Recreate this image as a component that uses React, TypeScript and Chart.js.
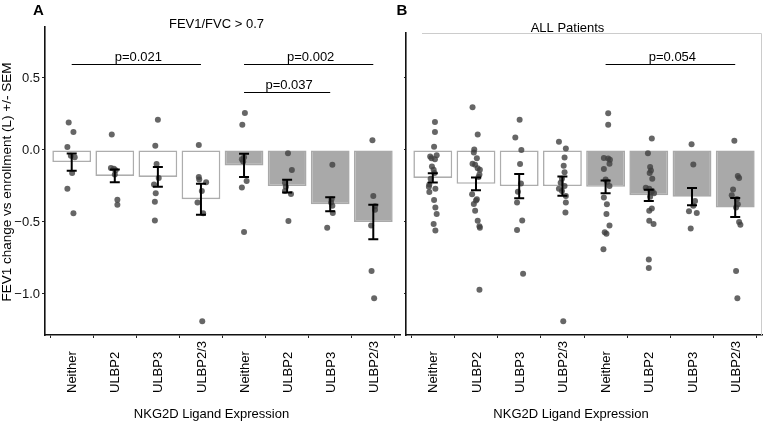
import React, { useEffect, useRef } from 'react';
import { Chart, registerables } from 'chart.js';

Chart.register(...registerables);

const FONT = '"Liberation Sans", Arial, Helvetica, sans-serif';

// ---------- data ----------
const categories = ['Neither', 'ULBP2', 'ULBP3', 'ULBP2/3', 'Neither', 'ULBP2', 'ULBP3', 'ULBP2/3'];
const yTickValues = [-1.0, -0.5, 0.0, 0.5];

// Panel A: FEV1/FVC > 0.7
const meansA = [-0.084, -0.18, -0.187, -0.342, -0.107, -0.251, -0.377, -0.5];
const semsA = [0.06, 0.045, 0.068, 0.108, 0.08, 0.044, 0.049, 0.12];
const pointsA = [
  [0.19, 0.125, 0.02, -0.04, -0.05, -0.16, -0.27, -0.44],
  [0.107, -0.125, -0.13, -0.14, -0.17, -0.345, -0.38],
  [0.21, 0.03, -0.098, -0.194, -0.24, -0.3, -0.36, -0.49],
  [0.035, -0.187, -0.205, -0.224, -0.285, -0.365, -0.44, -1.19],
  [0.256, 0.176, -0.05, -0.065, -0.08, -0.215, -0.26, -0.57],
  [-0.023, -0.139, -0.228, -0.256, -0.285, -0.306, -0.493],
  [-0.103, -0.342, -0.365, -0.388, -0.438, -0.54],
  [0.068, -0.32, -0.39, -0.415, -0.525, -0.84, -1.03],
];
const jitterA = [
  [-0.07, 0.04, -0.1, -0.02, 0.07, 0.01, -0.1, 0.04],
  [-0.07, -0.09, -0.02, 0.02, 0, 0.06, 0.06],
  [0, -0.06, -0.03, 0.02, -0.09, -0.05, -0.07, -0.07],
  [-0.05, -0.05, -0.04, 0.12, 0.02, -0.08, 0.05, 0.03],
  [0.02, -0.04, 0, -0.05, -0.02, 0.06, -0.05, 0],
  [0.02, 0.11, -0.05, -0.03, -0.05, 0.09, 0.03],
  [0.05, 0.03, 0.02, 0.05, 0.06, -0.07],
  [-0.02, 0, 0.04, 0.04, -0.05, -0.04, 0.02],
];
const sigA = [
  { from: 0, to: 3, y: 0.6, label: 'p=0.021' },
  { from: 4, to: 7, y: 0.6, label: 'p=0.002' },
  { from: 4, to: 6, y: 0.4, label: 'p=0.037' },
];

// Panel B: ALL Patients
const meansB = [-0.194, -0.235, -0.251, -0.251, -0.256, -0.315, -0.324, -0.4];
const semsB = [0.032, 0.044, 0.085, 0.066, 0.044, 0.039, 0.06, 0.066];
const pointsB = [
  [0.194, 0.125, 0.023, -0.037, -0.046, -0.057, -0.064, -0.114, -0.137, -0.16, -0.2, -0.24, -0.256, -0.27, -0.292, -0.347, -0.4, -0.445, -0.514, -0.56],
  [0.297, 0.107, 0.004, -0.018, -0.057, -0.096, -0.103, -0.126, -0.137, -0.171, -0.187, -0.308, -0.342, -0.35, -0.376, -0.422, -0.491, -0.53, -0.54, -0.97],
  [0.21, 0.087, 0.0, -0.098, -0.233, -0.29, -0.365, -0.49, -0.555, -0.86],
  [0.057, 0.011, -0.052, -0.11, -0.155, -0.2, -0.228, -0.25, -0.27, -0.285, -0.32, -0.365, -0.434, -1.19],
  [0.256, 0.176, -0.055, -0.06, -0.068, -0.096, -0.132, -0.205, -0.22, -0.251, -0.33, -0.377, -0.445, -0.525, -0.571, -0.582, -0.69],
  [0.08, -0.023, -0.119, -0.142, -0.16, -0.2, -0.262, -0.27, -0.285, -0.295, -0.3, -0.324, -0.406, -0.422, -0.491, -0.514, -0.76, -0.82],
  [0.039, -0.1, -0.354, -0.388, -0.425, -0.438, -0.545],
  [0.064, -0.18, -0.195, -0.274, -0.315, -0.34, -0.377, -0.4, -0.5, -0.52, -0.84, -1.03],
];
const jitterB = [
  [0.05, 0.05, 0.03, 0.09, -0.06, -0.03, 0.05, -0.02, 0.02, 0.04, -0.05, -0.08, -0.09, 0.06, -0.08, 0.03, 0.06, 0.09, 0.02, 0.06],
  [-0.08, 0.04, -0.04, -0.05, 0.02, -0.08, -0.02, 0.04, 0.09, 0.08, 0.06, -0.09, 0.02, 0, -0.05, -0.02, 0.04, 0.08, 0.09, 0.08],
  [0.01, -0.09, 0.05, 0.02, 0.04, -0.03, -0.05, 0.07, -0.05, 0.09],
  [-0.08, 0.08, 0.05, 0.03, 0.05, -0.01, -0.04, 0.05, -0.08, -0.01, 0.08, 0.08, 0.07, 0.02],
  [0.06, 0.06, -0.04, 0.06, 0.1, 0.09, -0.04, 0, 0.04, 0.09, -0.04, 0.03, 0.02, 0.09, -0.02, 0.02, -0.05],
  [0.07, -0.02, 0.03, 0.05, 0.02, 0.08, -0.07, 0.01, 0.08, 0.05, 0.12, 0.03, 0.07, 0.01, 0.01, 0.11, 0, 0],
  [-0.01, 0.03, 0.07, 0.03, -0.07, 0.11, -0.03],
  [-0.02, 0.06, 0.09, -0.05, -0.08, 0.04, 0.06, 0.02, 0.09, 0.12, 0.02, 0.05],
];
const sigB = [{ from: 4, to: 7, y: 0.6, label: 'p=0.054' }];

// ---------- styling ----------
const WHITE_FILL = '#ffffff';
const WHITE_EDGE = '#adadad';
const GRAY_FILL = '#a9a9a9';
const POINT_COLOR = 'rgba(64,64,64,0.8)';

type TextItem = { text: string; x: number; y: number; size: number; bold?: boolean; align: CanvasTextAlign; rotate?: boolean };

type PanelCfg = {
  means: number[];
  sems: number[];
  points: number[][];
  jitter: number[][];
  sig: { from: number; to: number; y: number; label: string }[];
  yMax: number;
  padTop: number;
  padRight: number;
  yAxisWidth: number;
  showYLabels: boolean;
  yTickLen: number;
  frame: boolean;
  texts: TextItem[];
};

function extrasPlugin(p: PanelCfg) {
  return {
    id: 'panelExtras',
    beforeDatasetsDraw(chart: any) {
      if (!p.frame) return;
      const { ctx, chartArea } = chart;
      ctx.save();
      ctx.strokeStyle = '#cccccc';
      ctx.lineWidth = 1;
      ctx.beginPath();
      ctx.moveTo(chartArea.left + 16, chartArea.top + 0.5);
      ctx.lineTo(chartArea.right - 0.5, chartArea.top + 0.5);
      ctx.lineTo(chartArea.right - 0.5, chartArea.bottom);
      ctx.stroke();
      ctx.restore();
    },
    afterDatasetsDraw(chart: any) {
      const { ctx, chartArea } = chart;
      const xs = chart.scales.x;
      const ys = chart.scales.y;
      ctx.save();
      // error bars (mean +/- SEM)
      ctx.strokeStyle = '#000';
      ctx.lineWidth = 2;
      p.means.forEach((m, i) => {
        const px = xs.getPixelForValue(i);
        const t = ys.getPixelForValue(m + p.sems[i]);
        const b = ys.getPixelForValue(m - p.sems[i]);
        ctx.beginPath();
        ctx.moveTo(px, t);
        ctx.lineTo(px, b);
        ctx.moveTo(px - 5, t);
        ctx.lineTo(px + 5, t);
        ctx.moveTo(px - 5, b);
        ctx.lineTo(px + 5, b);
        ctx.stroke();
      });
      // significance brackets
      ctx.lineWidth = 1;
      ctx.fillStyle = '#000';
      ctx.font = `13px ${FONT}`;
      ctx.textAlign = 'center';
      ctx.textBaseline = 'alphabetic';
      p.sig.forEach((s) => {
        const x1 = xs.getPixelForValue(s.from);
        const x2 = xs.getPixelForValue(s.to);
        const yy = Math.round(ys.getPixelForValue(s.y)) + 0.5;
        ctx.beginPath();
        ctx.moveTo(x1, yy);
        ctx.lineTo(x2, yy);
        ctx.stroke();
        ctx.fillText(s.label, (x1 + x2) / 2 + 2, yy - 4);
      });
      // rotated category labels
      ctx.font = `13px ${FONT}`;
      ctx.textAlign = 'left';
      ctx.textBaseline = 'middle';
      ctx.fillStyle = '#000';
      categories.forEach((c, i) => {
        const px = xs.getPixelForValue(i);
        ctx.save();
        ctx.translate(px + 1, chartArea.bottom + 58);
        ctx.rotate(-Math.PI / 2);
        ctx.fillText(c, 0, 0);
        ctx.restore();
      });
      // titles
      p.texts.forEach((t) => {
        ctx.save();
        ctx.font = `${t.bold ? 'bold ' : ''}${t.size}px ${FONT}`;
        ctx.textAlign = t.align;
        ctx.textBaseline = 'alphabetic';
        ctx.fillStyle = '#000';
        if (t.rotate) {
          ctx.translate(t.x, t.y);
          ctx.rotate(-Math.PI / 2);
          ctx.fillText(t.text, 0, 0);
        } else {
          ctx.fillText(t.text, t.x, t.y);
        }
        ctx.restore();
      });
      ctx.restore();
    },
  };
}

function buildPanel(canvas: HTMLCanvasElement, p: PanelCfg) {
  const pointData: { x: number; y: number }[] = [];
  p.points.forEach((vals, i) => {
    vals.forEach((v, j) => pointData.push({ x: i + p.jitter[i][j], y: v }));
  });
  const barData = p.means.map((m, i) => ({ x: i, y: m }));
  const isFilled = categories.map((_, i) => i >= 4);

  const zeroPad = (s: any) => {
    s.paddingTop = 0;
    s.paddingBottom = 0;
    s.paddingLeft = 0;
    s.paddingRight = 0;
  };

  return new Chart(canvas, {
    type: 'bar',
    data: {
      datasets: [
        {
          type: 'scatter',
          data: pointData,
          backgroundColor: POINT_COLOR,
          borderWidth: 0,
          pointRadius: 3,
          pointHoverRadius: 3,
          order: 1,
          clip: false,
        } as any,
        {
          type: 'bar',
          data: barData,
          backgroundColor: isFilled.map((f) => (f ? GRAY_FILL : WHITE_FILL)),
          borderColor: isFilled.map((f) => (f ? GRAY_FILL : WHITE_EDGE)),
          borderWidth: 1.6,
          borderSkipped: false,
          barPercentage: 0.9,
          categoryPercentage: 1,
          order: 2,
        } as any,
      ],
    },
    options: {
      animation: false,
      responsive: false,
      devicePixelRatio: 1,
      events: [],
      layout: { padding: { top: p.padTop, right: p.padRight, left: 0, bottom: 0 } },
      plugins: { legend: { display: false }, tooltip: { enabled: false }, title: { display: false } },
      scales: {
        x: {
          type: 'linear',
          min: -0.62,
          max: 7.62,
          offset: false,
          grid: { display: true, drawOnChartArea: false, drawTicks: true, tickLength: 3, color: '#222', lineWidth: 1 },
          border: { display: true, color: '#111', width: 1.6 },
          ticks: { display: false },
          afterBuildTicks: (s: any) => {
            s.ticks = categories.map((_, i) => ({ value: i }));
          },
          afterFit: (s: any) => {
            s.height = 96;
            zeroPad(s);
          },
        },
        y: {
          type: 'linear',
          min: -1.285,
          max: p.yMax,
          grid: { display: true, drawOnChartArea: false, drawTicks: true, tickLength: p.yTickLen, color: '#222', lineWidth: 1 },
          border: { display: true, color: '#111', width: 1.6 },
          ticks: {
            display: p.showYLabels,
            padding: 2,
            color: '#111',
            font: { family: FONT, size: 13 },
            callback: (v: any) => {
              const n = Number(v);
              const s = Math.abs(n).toFixed(1);
              return n < 0 ? '\u2212' + s : s;
            },
          },
          afterBuildTicks: (s: any) => {
            s.ticks = yTickValues.map((v) => ({ value: v }));
          },
          afterFit: (s: any) => {
            s.width = p.yAxisWidth;
            zeroPad(s);
          },
        },
      },
    } as any,
    plugins: [extrasPlugin(p) as any],
  });
}

export default function App() {
  const leftRef = useRef<HTMLCanvasElement>(null);
  const rightRef = useRef<HTMLCanvasElement>(null);

  useEffect(() => {
    const a = buildPanel(leftRef.current as HTMLCanvasElement, {
      means: meansA,
      sems: semsA,
      points: pointsA,
      jitter: jitterA,
      sig: sigA,
      yMax: 0.854,
      padTop: 27,
      padRight: 1,
      yAxisWidth: 45,
      showYLabels: true,
      yTickLen: 3,
      frame: false,
      texts: [
        { text: 'A', x: 33, y: 15, size: 15, bold: true, align: 'left' },
        { text: 'FEV1/FVC > 0.7', x: 216.5, y: 28, size: 13, align: 'center' },
        { text: 'NKG2D Ligand Expression', x: 211.5, y: 417.5, size: 13, align: 'center' },
        { text: 'FEV1 change vs enrollment (L) +/- SEM', x: 10.5, y: 182, size: 13.5, align: 'center', rotate: true },
      ],
    });
    const b = buildPanel(rightRef.current as HTMLCanvasElement, {
      means: meansB,
      sems: semsB,
      points: pointsB,
      jitter: jitterB,
      sig: sigB,
      yMax: 0.8125,
      padTop: 33,
      padRight: 7,
      yAxisWidth: 16,
      showYLabels: false,
      yTickLen: 2,
      frame: true,
      texts: [
        { text: 'B', x: 6.5, y: 14.5, size: 15, bold: true, align: 'left' },
        { text: 'ALL Patients', x: 177.5, y: 32, size: 13, align: 'center' },
        { text: 'NKG2D Ligand Expression', x: 181, y: 418, size: 13, align: 'center' },
      ],
    });
    return () => {
      a.destroy();
      b.destroy();
    };
  }, []);

  return (
    <div style={{ position: 'fixed', left: 0, top: 0, width: 769, height: 431, background: '#fff', overflow: 'hidden' }}>
      <canvas ref={leftRef} width={403} height={431} style={{ position: 'absolute', left: 0, top: 0, width: 403, height: 431 }} />
      <canvas ref={rightRef} width={379} height={431} style={{ position: 'absolute', left: 390, top: 0, width: 379, height: 431 }} />
    </div>
  );
}
